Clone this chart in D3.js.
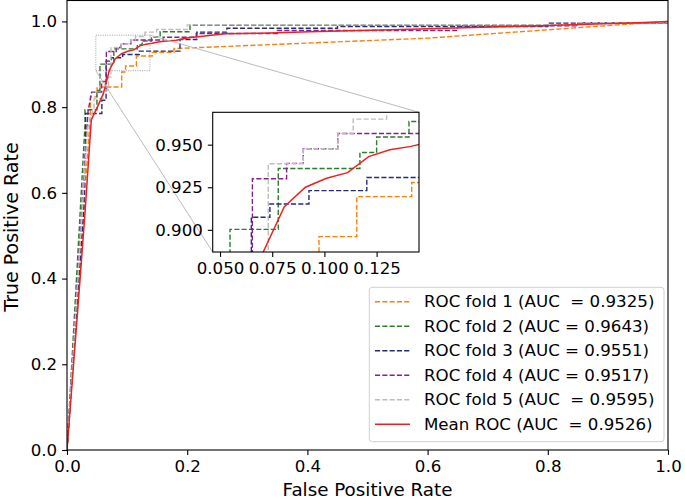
<!DOCTYPE html>
<html><head><meta charset="utf-8">
<script src="https://cdn.jsdelivr.net/npm/d3@7"></script>
<style>
body{margin:0;background:#fff;}
text{font-family:"DejaVu Sans",sans-serif;fill:#000;}
</style></head>
<body><svg id="c" width="685" height="501"></svg>
<script>
// ---------- data ----------
const xTicks = [0, 0.2, 0.4, 0.6, 0.8, 1.0];
const yTicks = [0, 0.2, 0.4, 0.6, 0.8, 1.0];
const insetXTicks = [0.050, 0.075, 0.100, 0.125];
const insetYTicks = [0.900, 0.925, 0.950];
const insetXRange = [0.0465, 0.1453];
const insetYRange = [0.887, 0.969];
const markRectX = [0.048, 0.138];
const markRectY = [0.885, 0.968];

const fold1_fpr = [0, 0.039, 0.039, 0.050, 0.050, 0.091, 0.091, 0.0974, 0.0974, 0.1155, 0.1155, 0.1418, 0.1418, 0.178, 0.178, 0.600, 1.0];
const fold1_tpr = [0, 0.785, 0.824, 0.824, 0.847, 0.847, 0.882, 0.882, 0.896, 0.896, 0.9195, 0.9195, 0.9278, 0.9278, 0.9366, 0.961, 1.0];

const fold2_fpr = [0, 0.030, 0.030, 0.0498, 0.0498, 0.0548, 0.0548, 0.0779, 0.0779, 0.117, 0.117, 0.125, 0.125, 0.1405, 0.1405, 0.155, 0.155, 0.2047, 0.2047, 0.850, 0.850, 1.0, 1.0];
const fold2_tpr = [0, 0.760, 0.794, 0.794, 0.839, 0.839, 0.9003, 0.9003, 0.936, 0.936, 0.9454, 0.9454, 0.9545, 0.9545, 0.9636, 0.9636, 0.976, 0.976, 0.991, 0.991, 0.996, 0.996, 1.0];

const fold3_fpr = [0, 0.028, 0.031, 0.031, 0.058, 0.058, 0.065, 0.065, 0.0739, 0.0739, 0.0926, 0.0926, 0.1203, 0.1203, 0.188, 0.188, 0.216, 0.216, 0.266, 0.266, 0.450, 0.450, 0.800, 0.800, 1.0, 1.0];
const fold3_tpr = [0, 0.560, 0.720, 0.785, 0.785, 0.816, 0.816, 0.9074, 0.9074, 0.9152, 0.9152, 0.923, 0.923, 0.9307, 0.9307, 0.958, 0.958, 0.975, 0.975, 0.984, 0.984, 0.988, 0.988, 0.996, 0.996, 1.0];

const fold4_fpr = [0, 0.035, 0.041, 0.0575, 0.0575, 0.0655, 0.0655, 0.0819, 0.0819, 0.0899, 0.0899, 0.1064, 0.1064, 0.160, 0.160, 0.215, 0.215, 0.350, 0.350, 0.650, 0.650, 0.850, 0.850, 1.0, 1.0];
const fold4_tpr = [0, 0.790, 0.835, 0.835, 0.860, 0.860, 0.930, 0.930, 0.939, 0.939, 0.9476, 0.9476, 0.9566, 0.9566, 0.963, 0.963, 0.972, 0.972, 0.979, 0.979, 0.990, 0.990, 0.997, 0.997, 1.0];

const fold5_fpr = [0, 0.034, 0.045, 0.045, 0.060, 0.060, 0.069, 0.069, 0.0731, 0.0731, 0.0899, 0.0899, 0.1064, 0.1064, 0.1138, 0.1138, 0.1298, 0.1298, 0.149, 0.149, 0.200, 0.200, 0.850, 0.850, 1.0, 1.0];
const fold5_tpr = [0, 0.750, 0.800, 0.820, 0.820, 0.840, 0.840, 0.870, 0.870, 0.9388, 0.9388, 0.9476, 0.9476, 0.9566, 0.9566, 0.965, 0.965, 0.975, 0.975, 0.981, 0.981, 0.992, 0.992, 0.997, 0.997, 1.0];

const mean_fpr = [0, 0.0101, 0.0202, 0.0303, 0.0404, 0.0505, 0.0606, 0.0707, 0.0808, 0.0909, 0.1010, 0.1111, 0.1212, 0.1313, 0.1414, 0.1515, 0.1616, 0.1818, 0.2020, 0.2222, 0.2626, 0.3232, 0.4040, 0.5556, 0.7576, 0.9495, 1.0];
const mean_tpr = [0, 0.185, 0.370, 0.560, 0.770, 0.800, 0.832, 0.887, 0.9136, 0.925, 0.9303, 0.9336, 0.943, 0.947, 0.949, 0.952, 0.954, 0.956, 0.962, 0.965, 0.971, 0.9727, 0.976, 0.981, 0.989, 0.997, 1.0];

const seriesNames = ["ROC fold 1 (AUC  = 0.9325)", "ROC fold 2 (AUC = 0.9643)", "ROC fold 3 (AUC = 0.9551)",
  "ROC fold 4 (AUC = 0.9517)", "ROC fold 5 (AUC  = 0.9595)", "Mean ROC (AUC  = 0.9526)"];
const seriesColors = ["#ff7f0e", "#2a7d2a", "#262b7d", "#8a1f8a", "#bdbdbd", "#f02020"];

const series = [
  {fpr: fold1_fpr, tpr: fold1_tpr, dash: true},
  {fpr: fold2_fpr, tpr: fold2_tpr, dash: true},
  {fpr: fold3_fpr, tpr: fold3_tpr, dash: true},
  {fpr: fold4_fpr, tpr: fold4_tpr, dash: true},
  {fpr: fold5_fpr, tpr: fold5_tpr, dash: true},
  {fpr: mean_fpr, tpr: mean_tpr, dash: false}
].map((s, i) => ({...s, name: seriesNames[i], color: seriesColors[i],
  pts: s.fpr.map((f, j) => [f, s.tpr[j]])}));

// ---------- layout ----------
const svg = d3.select("#c");
const M = {l: 67, r: 668, t: 0, b: 450};
const x = d3.scaleLinear().domain([0, 1]).range([M.l, M.r]);
const y = d3.scaleLinear().domain([0, 1.05]).range([M.b, M.t]);
const FS = 16.67;
const DASH = "5.1,2.2";

svg.append("defs").append("clipPath").attr("id", "mainclip")
  .append("rect").attr("x", M.l).attr("y", M.t).attr("width", M.r - M.l).attr("height", M.b - M.t);

const main = svg.append("g").attr("clip-path", "url(#mainclip)");
series.forEach(s => {
  const line = d3.line().x(d => x(d[0])).y(d => y(d[1]));
  main.append("path").attr("d", line(s.pts)).attr("fill", "none")
    .attr("stroke", s.color).attr("stroke-width", s.dash ? 1.4 : 1.5)
    .attr("stroke-dasharray", s.dash ? DASH : null);
});

// inset indicator rect
const rx0 = x(markRectX[0]), rx1 = x(markRectX[1]);
const ry0 = y(markRectY[1]), ry1 = y(markRectY[0]);
svg.append("rect").attr("x", rx0).attr("y", ry0).attr("width", rx1 - rx0).attr("height", ry1 - ry0)
  .attr("fill", "none").attr("stroke", "#888").attr("stroke-width", 0.8).attr("stroke-dasharray", "1,1.3");

// main axes
const xAxis = d3.axisBottom(x).tickValues(xTicks).tickFormat(d3.format(".1f")).tickSize(4.9).tickPadding(4.9);
const yAxis = d3.axisLeft(y).tickValues(yTicks).tickFormat(d3.format(".1f")).tickSize(4.9).tickPadding(4.9);
const gx = svg.append("g").attr("transform", `translate(0,${M.b})`).call(xAxis);
const gy = svg.append("g").attr("transform", `translate(${M.l},0)`).call(yAxis);
[gx, gy].forEach(g => {
  g.select(".domain").remove();
  g.selectAll("line").attr("stroke", "#000").attr("stroke-width", 1.1);
  g.selectAll("text").attr("font-size", FS).attr("font-family", "DejaVu Sans").attr("fill", "#000");
});
svg.append("rect").attr("x", M.l).attr("y", M.t + 0.5).attr("width", M.r - M.l).attr("height", M.b - M.t - 0.5)
  .attr("fill", "none").attr("stroke", "#000").attr("stroke-width", 1.1);

svg.append("text").attr("x", (M.l + M.r) / 2).attr("y", 496).attr("text-anchor", "middle")
  .attr("font-size", 18.3).text("False Positive Rate");
svg.append("text").attr("transform", `translate(17.5,${(M.t + M.b) / 2 + 2}) rotate(-90)`)
  .attr("text-anchor", "middle")
  .attr("font-size", 19).text("True Positive Rate");

// legend
const lg = svg.append("g");
lg.append("rect").attr("x", 369.3).attr("y", 287.3).attr("width", 664 - 369.3).attr("height", 441.7 - 287.3)
  .attr("rx", 3).attr("fill", "#fff").attr("fill-opacity", 0.8).attr("stroke", "#d0d0d0").attr("stroke-width", 1);
const rowY = d3.scaleLinear().domain([0, 5]).range([301.7, 424.3]);
series.forEach((s, i) => {
  lg.append("line").attr("x1", 375).attr("x2", 410).attr("y1", rowY(i)).attr("y2", rowY(i))
    .attr("stroke", s.color).attr("stroke-width", s.dash ? 1.4 : 1.5)
    .attr("stroke-dasharray", s.dash ? DASH : null);
  lg.append("text").attr("x", 424).attr("y", rowY(i)).attr("dominant-baseline", "central")
    .attr("font-size", FS).style("white-space", "pre").text(s.name);
});

// connectors (from indicator rect corners to inset corners)
const I = {l: 212.7, r: 419, t: 112.3, b: 252};
svg.append("line").attr("x1", rx1).attr("y1", ry0).attr("x2", I.r).attr("y2", I.t)
  .attr("stroke", "#bbb").attr("stroke-width", 1);
svg.append("line").attr("x1", rx0).attr("y1", ry1).attr("x2", I.l).attr("y2", I.b)
  .attr("stroke", "#bbb").attr("stroke-width", 1);

// inset
const ix = d3.scaleLinear().domain(insetXRange).range([I.l, I.r]);
const iy = d3.scaleLinear().domain(insetYRange).range([I.b, I.t]);
svg.select("defs").append("clipPath").attr("id", "insetclip")
  .append("rect").attr("x", I.l).attr("y", I.t).attr("width", I.r - I.l).attr("height", I.b - I.t);
svg.append("rect").attr("x", I.l).attr("y", I.t).attr("width", I.r - I.l).attr("height", I.b - I.t).attr("fill", "#fff");
const ig = svg.append("g").attr("clip-path", "url(#insetclip)");
series.forEach(s => {
  const line = d3.line().x(d => ix(d[0])).y(d => iy(d[1]));
  ig.append("path").attr("d", line(s.pts)).attr("fill", "none")
    .attr("stroke", s.color).attr("stroke-width", s.dash ? 1.4 : 1.5)
    .attr("stroke-dasharray", s.dash ? DASH : null);
});
const ixAxis = d3.axisBottom(ix).tickValues(insetXTicks).tickFormat(d3.format(".3f")).tickSize(4.9).tickPadding(4.9);
const iyAxis = d3.axisLeft(iy).tickValues(insetYTicks).tickFormat(d3.format(".3f")).tickSize(4.9).tickPadding(4.9);
const igx = svg.append("g").attr("transform", `translate(0,${I.b})`).call(ixAxis);
const igy = svg.append("g").attr("transform", `translate(${I.l},0)`).call(iyAxis);
[igx, igy].forEach(g => {
  g.select(".domain").remove();
  g.selectAll("line").attr("stroke", "#000").attr("stroke-width", 1.1);
  g.selectAll("text").attr("font-size", FS).attr("font-family", "DejaVu Sans").attr("fill", "#000");
});
svg.append("rect").attr("x", I.l).attr("y", I.t).attr("width", I.r - I.l).attr("height", I.b - I.t)
  .attr("fill", "none").attr("stroke", "#000").attr("stroke-width", 1.1);
</script></body></html>
